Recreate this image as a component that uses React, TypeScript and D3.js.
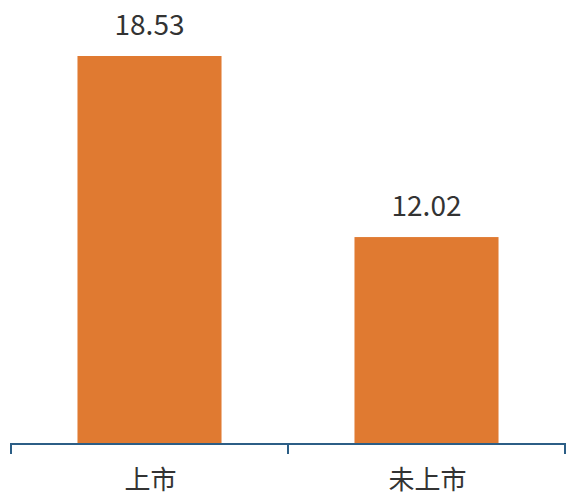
import React from "react";
import * as d3 from "d3";

const categories = ["上市", "未上市"];
const values = [18.53, 12.02];

export default function App() {
  const W = 566, H = 496;
  const axisY = 444;
  const x = d3.scaleBand<string>().domain(categories).range([11, 565]).paddingInner(0.48).paddingOuter(0.24);
  const y = d3.scaleLinear().domain([4.58, 18.53]).range([axisY, 56]);
  const xTicks = [11, 288, 565];
  const font = "'Noto Sans CJK SC', 'Noto Sans', sans-serif";
  return (
    <svg width={W} height={H} style={{ position: "absolute", left: 0, top: 0 }}>
      {categories.map((c, i) => (
        <g key={c}>
          <rect x={x(c)} y={y(values[i])} width={x.bandwidth()} height={axisY - y(values[i])} fill="#E07A31" />
          <text x={x(c)! + x.bandwidth() / 2} y={y(values[i]) - 21} textAnchor="middle" fontSize={28} fill="#333" fontFamily={font}>
            {values[i].toFixed(2)}
          </text>
          <text x={x(c)! + x.bandwidth() / 2 + 1} y={489} textAnchor="middle" fontSize={26} fill="#333" fontFamily={font}>
            {c}
          </text>
        </g>
      ))}
      <line x1={10} x2={566} y1={axisY} y2={axisY} stroke="#2C5E86" strokeWidth={2} />
      {xTicks.map((t) => (
        <line key={t} x1={t} x2={t} y1={axisY} y2={axisY + 10} stroke="#2C5E86" strokeWidth={2} />
      ))}
    </svg>
  );
}
